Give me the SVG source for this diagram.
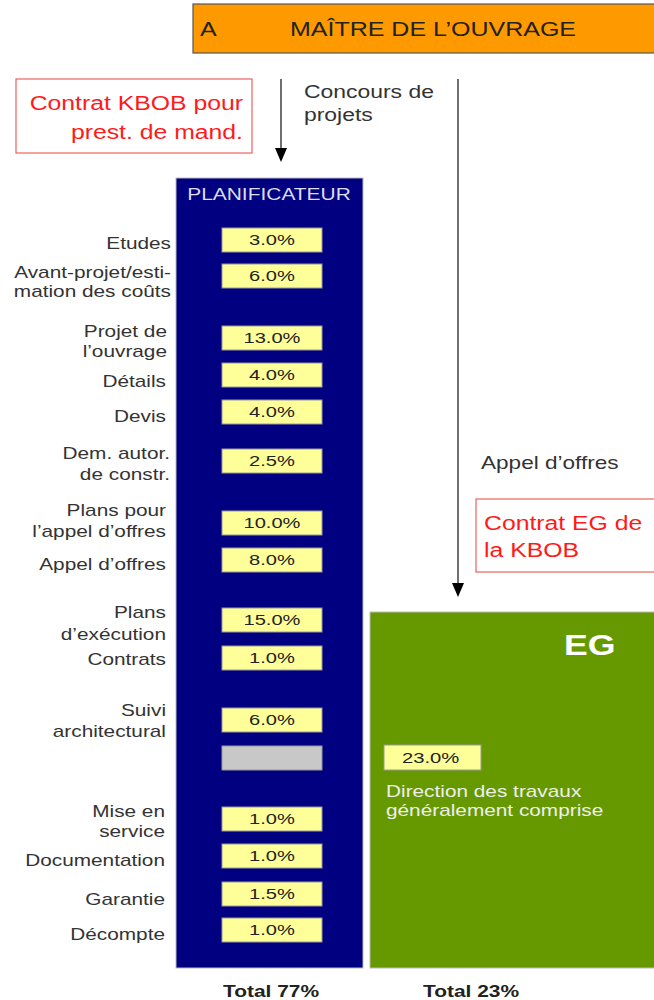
<svg xmlns="http://www.w3.org/2000/svg" width="654" height="1000" viewBox="0 0 654 1000">
<style>
text{font-family:"Liberation Sans",Arial,sans-serif}
.lbl{font-size:16px;fill:#333;text-anchor:end}
.val{font-size:15px;fill:#222;text-anchor:middle}
.yb{fill:#ffff99;stroke:#999;stroke-width:1}
.red{font-size:21px;fill:#ff1a1a}
.conn{stroke:#222;stroke-width:1.3;fill:none}
.gray{font-size:17.5px;fill:#333}
.tot{font-size:17px;font-weight:bold;fill:#222;text-anchor:middle}
</style>
<rect width="654" height="1000" fill="#fff"/>
<g id="maitre">
<rect x="193" y="4" width="470" height="49" fill="#ff9900" stroke="#555" stroke-width="1.2"/>
<text transform="translate(200,36) scale(1.19,1)" font-size="21" fill="#222">A</text>
<text transform="translate(290,36) scale(1.19,1)" font-size="21" fill="#222">MAÎTRE DE L’OUVRAGE</text>
</g>
<g id="contrat-kbob">
<rect x="16" y="79" width="236" height="74" fill="#fff" stroke="#f06060" stroke-width="1.2"/>
<text class="red" transform="translate(243,110) scale(1.18,1)" text-anchor="end">Contrat KBOB pour</text>
<text class="red" transform="translate(243,139) scale(1.18,1)" text-anchor="end">prest. de mand.</text>
</g>
<g id="connectors">
<line class="conn" x1="281" y1="79" x2="281" y2="150"/>
<path d="M275,148 L287,148 L281,162 Z" fill="#000"/>
<line class="conn" x1="458" y1="79" x2="458" y2="585"/>
<path d="M452,583 L464,583 L458,597 Z" fill="#000"/>
</g>
<g id="labels-right">
<text class="gray" transform="translate(304,98) scale(1.31,1)">Concours de</text>
<text class="gray" transform="translate(304,121) scale(1.31,1)">projets</text>
<text class="gray" transform="translate(481,469) scale(1.29,1)">Appel d’offres</text>
</g>
<g id="contrat-eg">
<rect x="476" y="499" width="185" height="73" fill="#fff" stroke="#f06060" stroke-width="1.2"/>
<text class="red" transform="translate(484,530) scale(1.18,1)">Contrat EG de</text>
<text class="red" transform="translate(484,557) scale(1.18,1)">la KBOB</text>
</g>
<g id="planificateur">
<rect x="176" y="178" width="187" height="790" fill="#000080" stroke="#bbb" stroke-width="1"/>
<text transform="translate(269,200) scale(1.27,1)" font-size="16.5" fill="#dde" text-anchor="middle">PLANIFICATEUR</text>
<rect class="yb" x="222" y="228" width="100" height="24"/><text class="val" transform="translate(272,245) scale(1.34,1)">3.0%</text>
<rect class="yb" x="222" y="264" width="100" height="24"/><text class="val" transform="translate(272,281) scale(1.34,1)">6.0%</text>
<rect class="yb" x="222" y="326" width="100" height="24"/><text class="val" transform="translate(272,343) scale(1.34,1)">13.0%</text>
<rect class="yb" x="222" y="363" width="100" height="24"/><text class="val" transform="translate(272,380) scale(1.34,1)">4.0%</text>
<rect class="yb" x="222" y="400" width="100" height="24"/><text class="val" transform="translate(272,417) scale(1.34,1)">4.0%</text>
<rect class="yb" x="222" y="449" width="100" height="24"/><text class="val" transform="translate(272,466) scale(1.34,1)">2.5%</text>
<rect class="yb" x="222" y="511" width="100" height="24"/><text class="val" transform="translate(272,528) scale(1.34,1)">10.0%</text>
<rect class="yb" x="222" y="548" width="100" height="24"/><text class="val" transform="translate(272,565) scale(1.34,1)">8.0%</text>
<rect class="yb" x="222" y="608" width="100" height="24"/><text class="val" transform="translate(272,625) scale(1.34,1)">15.0%</text>
<rect class="yb" x="222" y="646" width="100" height="24"/><text class="val" transform="translate(272,663) scale(1.34,1)">1.0%</text>
<rect class="yb" x="222" y="708" width="100" height="24"/><text class="val" transform="translate(272,725) scale(1.34,1)">6.0%</text>
<rect x="222" y="746" width="100" height="24" fill="#c8c8c8" stroke="#999" stroke-width="1"/>
<rect class="yb" x="222" y="807" width="100" height="24"/><text class="val" transform="translate(272,824) scale(1.34,1)">1.0%</text>
<rect class="yb" x="222" y="844" width="100" height="24"/><text class="val" transform="translate(272,861) scale(1.34,1)">1.0%</text>
<rect class="yb" x="222" y="882" width="100" height="24"/><text class="val" transform="translate(272,899) scale(1.34,1)">1.5%</text>
<rect class="yb" x="222" y="918" width="100" height="24"/><text class="val" transform="translate(272,935) scale(1.34,1)">1.0%</text>
</g>
<g id="phase-labels">
<text class="lbl" transform="translate(171,249) scale(1.3,1)">Etudes</text>
<text class="lbl" transform="translate(171,278) scale(1.3,1)">Avant-projet/esti-</text>
<text class="lbl" transform="translate(171,297) scale(1.3,1)">mation des coûts</text>
<text class="lbl" transform="translate(167,337) scale(1.3,1)">Projet de</text>
<text class="lbl" transform="translate(167,357) scale(1.3,1)">l’ouvrage</text>
<text class="lbl" transform="translate(166,387) scale(1.3,1)">Détails</text>
<text class="lbl" transform="translate(166,422) scale(1.3,1)">Devis</text>
<text class="lbl" transform="translate(170,459) scale(1.3,1)">Dem. autor.</text>
<text class="lbl" transform="translate(170,480) scale(1.3,1)">de constr.</text>
<text class="lbl" transform="translate(166,516) scale(1.3,1)">Plans pour</text>
<text class="lbl" transform="translate(166,537) scale(1.3,1)">l’appel d’offres</text>
<text class="lbl" transform="translate(166,570) scale(1.3,1)">Appel d’offres</text>
<text class="lbl" transform="translate(166,618) scale(1.3,1)">Plans</text>
<text class="lbl" transform="translate(166,640) scale(1.3,1)">d’exécution</text>
<text class="lbl" transform="translate(166,665) scale(1.3,1)">Contrats</text>
<text class="lbl" transform="translate(166,716) scale(1.3,1)">Suivi</text>
<text class="lbl" transform="translate(166,737) scale(1.3,1)">architectural</text>
<text class="lbl" transform="translate(165,817) scale(1.3,1)">Mise en</text>
<text class="lbl" transform="translate(165,837) scale(1.3,1)">service</text>
<text class="lbl" transform="translate(165,866) scale(1.3,1)">Documentation</text>
<text class="lbl" transform="translate(165,905) scale(1.3,1)">Garantie</text>
<text class="lbl" transform="translate(165,940) scale(1.3,1)">Décompte</text>
</g>
<g id="eg">
<rect x="370" y="612" width="295" height="356" fill="#669900" stroke="#bbb" stroke-width="1"/>
<text transform="translate(564,655) scale(1.23,1)" font-size="29" font-weight="bold" fill="#fff">EG</text>
<rect class="yb" x="384" y="745" width="97" height="25"/>
<text transform="translate(402,763) scale(1.35,1)" font-size="15" fill="#222">23.0%</text>
<text transform="translate(386,797) scale(1.3,1)" font-size="16" fill="#eee">Direction des travaux</text>
<text transform="translate(386,816) scale(1.3,1)" font-size="16" fill="#eee">généralement comprise</text>
</g>
<g id="totals">
<text class="tot" transform="translate(271,997) scale(1.23,1)">Total 77%</text>
<text class="tot" transform="translate(471,997) scale(1.23,1)">Total 23%</text>
</g>
</svg>
